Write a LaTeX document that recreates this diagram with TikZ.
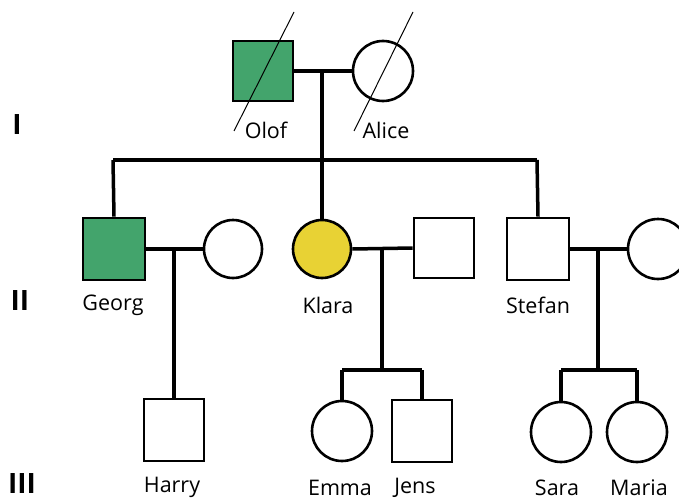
\documentclass[tikz,border=0pt]{standalone}
\usepackage{fontspec}
\setmainfont{Open Sans}
\definecolor{pgreen}{RGB}{67,164,108}
\definecolor{pyellow}{RGB}{232,210,52}
\begin{document}
\begin{tikzpicture}[x=1pt,y=-1pt,
  male/.style={draw=black,line width=2.6pt,fill=white,minimum size=60pt,inner sep=0pt,rectangle},
  female/.style={draw=black,line width=2.6pt,fill=white,minimum size=58pt,inner sep=0pt,circle},
  conn/.style={line width=3.5pt,draw=black},
  lbl/.style={font=\fontsize{21.5}{24}\selectfont,inner sep=0pt},
  gen/.style={font=\fontsize{28}{30}\selectfont\bfseries,inner sep=0pt},
  dead/.style={line width=1pt,draw=black}]
\useasboundingbox (0,0) rectangle (679,500);
\clip (0,0) rectangle (679,500);
% generation I
\node[male,fill=pgreen] (olof) at (263,71) {};
\node[female,minimum size=60pt] (alice) at (383,71) {};
\coordinate (m1) at (322,71);
\coordinate (s1) at (322,160);
\coordinate (s1l) at (113,160);
\coordinate (s1r) at (537,160);
\draw[conn] (olof.east) -- (alice.west);
\draw[conn] (m1) -- (s1);
\draw[conn] (s1l) -- (s1r);
\coordinate (d1a) at (234,131); \coordinate (d1b) at (294,12);
\coordinate (d2a) at (354,131); \coordinate (d2b) at (413,12);
\draw[dead] (d1a) -- (d1b);
\draw[dead] (d2a) -- (d2b);
\node[lbl] (lolof) at (266,130) {Olof};
\node[lbl] (lalice) at (386,130) {Alice};
\node[gen] (g1) at (17,125) {I};
% generation II
\node[male,fill=pgreen,minimum size=62pt] (georg) at (114,249) {};
\node[female] (gwife) at (233,249) {};
\node[female,fill=pyellow] (klara) at (322,249) {};
\node[male] (khus) at (444,248) {};
\node[male,minimum size=62pt] (stefan) at (538,249) {};
\node[female,minimum size=60pt] (swife) at (658,249) {};
\draw[conn] (s1l) -- (georg.north);
\draw[conn] (s1) -- (klara.north);
\draw[conn] (s1r) -- (stefan.north);
\draw[conn] (georg.east) -- (gwife.west);
\draw[conn] (klara.east) -- (khus.west);
\draw[conn] (stefan.east) -- (swife.west);
\node[lbl] (lgeorg) at (113,305) {Georg};
\node[lbl] (lklara) at (328,305) {Klara};
\node[lbl] (lstefan) at (538,305) {Stefan};
\node[gen] (g2) at (20,301) {II};
% generation III
\node[male,minimum width=60pt,minimum height=62pt] (harry) at (174,430) {};
\node[female,minimum size=60pt] (emma) at (342,431) {};
\node[male,minimum width=60pt,minimum height=62pt] (jens) at (422,431) {};
\node[female,minimum size=60pt] (sara) at (561,432) {};
\node[female,minimum size=60pt] (maria) at (637,432) {};
\coordinate (m2) at (174,249);
\coordinate (m3) at (382,249);
\coordinate (b3) at (382,370);
\coordinate (b3l) at (342,370);
\coordinate (b3r) at (422,370);
\coordinate (m4) at (598,249);
\coordinate (b4) at (598,370);
\coordinate (b4l) at (561,370);
\coordinate (b4r) at (637,370);
\draw[conn] (m2) -- (harry.north);
\draw[conn] (m3) -- (b3);
\draw[conn] (b3l) -- (b3r);
\draw[conn] (b3l) -- (emma.north);
\draw[conn] (b3r) -- (jens.north);
\draw[conn] (m4) -- (b4);
\draw[conn] (b4l) -- (b4r);
\draw[conn] (b4l) -- (sara.north);
\draw[conn] (b4r) -- (maria.north);
\node[lbl] (lharry) at (172,487.5) {Harry};
\node[lbl] (lemma) at (340,487.5) {Emma};
\node[lbl] (ljens) at (415,487.5) {Jens};
\node[lbl] (lsara) at (557,487.5) {Sara};
\node[lbl] (lmaria) at (639,487.5) {Maria};
\node[gen] (g3) at (22,483) {III};
\end{tikzpicture}
\end{document}
